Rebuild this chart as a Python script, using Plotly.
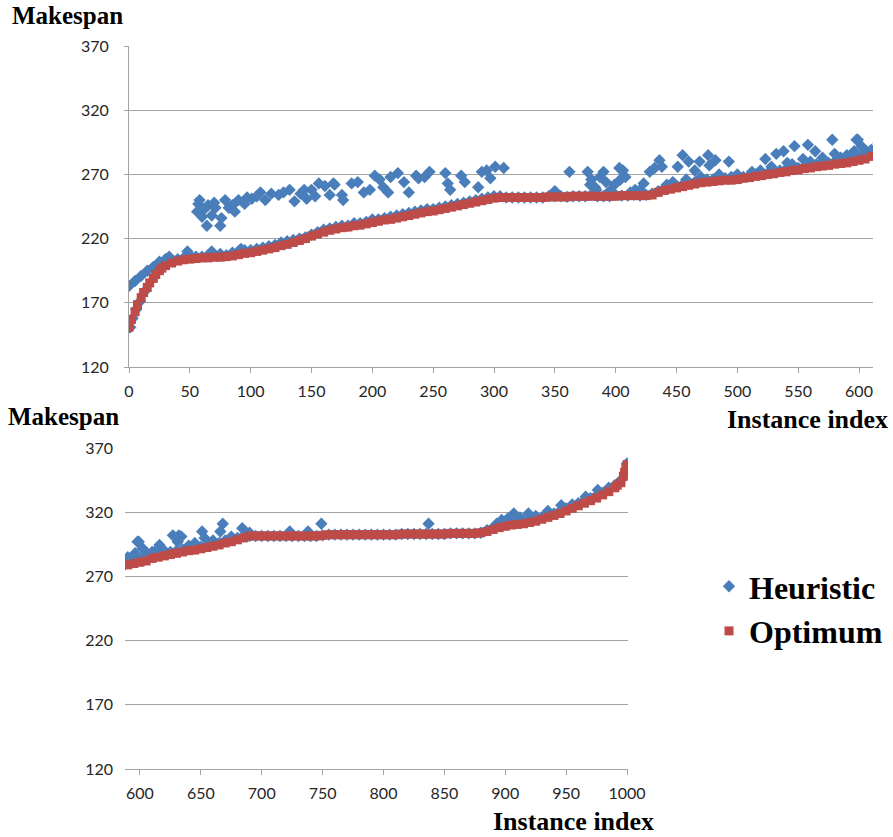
import plotly.graph_objects as go

# ---------------- data ----------------
# Optimum makespan, every 5th instance index from 0 to 1000
opt_idx = list(range(0, 1001, 5))
opt_val = [
    151, 163, 174, 182, 189, 195, 199, 201, 202.5, 203.5,
    204, 204.5, 205, 205, 205.5, 205.5, 206, 206.5, 207.5, 208.5,
    209, 210, 211, 212, 213, 214.5, 215.5, 217, 218.5, 220,
    222, 223.5, 225, 226.5, 227.5, 228.5, 229, 230, 230.5, 231.5,
    232.5, 233.5, 234.5, 235, 236, 237, 238, 239, 240, 241,
    241.5, 242.5, 243.5, 244.5, 245.5, 246.5, 247.5, 248.5, 249.5, 250.5,
    251.5, 252, 252, 252, 252, 252, 252, 252, 252, 252.5,
    252.5, 252.5, 252.5, 253, 253, 253, 253, 253, 253, 253,
    253, 253.5, 253.5, 253.5, 253.5, 253.5, 254, 256, 257.5, 258.5,
    259.5, 260.5, 261.5, 262.5, 263.5, 264, 264.5, 265, 265.5, 265.5,
    266, 267, 267.5, 268.5, 269, 270, 270.5, 271.5, 272, 273,
    273.5, 274.5, 275, 276, 276.5, 277, 278, 278.5, 279, 280,
    281, 282, 284, 285, 286, 287, 288, 289, 290, 290.5,
    291.5, 292.5, 293.5, 294.5, 296, 297, 298.5, 300, 301.5, 301.5,
    301.5, 301.5, 301.5, 301.5, 301.5, 301.5, 301.5, 301.5, 301.5, 301.5,
    302, 302.5, 302.5, 302.5, 302.5, 302.5, 302.5, 302.5, 302.5, 302.5,
    302.5, 302.5, 302.5, 303, 303, 303, 303, 303, 303, 303,
    303, 303.5, 303.5, 303.5, 303.5, 303.5, 304, 305, 306.5, 308,
    309, 310, 310.5, 311, 312, 313, 314.5, 316, 317.5, 319,
    321, 323, 325, 327, 329, 331, 333.5, 336, 339, 343,
    357,
]
# extra optimum points on the steep parts
opt_extra_idx = [2, 7, 12, 17, 22, 27, 992, 997, 998, 999]
opt_extra_val = [157, 168.5, 178, 185.5, 192, 197, 341, 348, 351, 354]

# Heuristic makespan at the same indices (mostly close to the optimum)
heur_val = [
    183, 187, 191, 195, 198, 201, 204, 203, 204, 205,
    207, 206, 206, 207, 207, 208, 207, 209, 210, 211,
    211, 212, 213, 214, 215, 217, 218, 219, 220, 221,
    223, 225, 227, 228, 229, 230, 230, 232, 232, 233,
    235, 235, 236, 237, 238, 239, 240, 241, 242, 243,
    243, 244, 245, 246, 247, 248, 249, 250, 251, 252,
    253, 253, 252, 252, 252, 252, 252, 252, 252, 253,
    253, 253, 252.5, 253, 253, 253, 254, 253, 253, 253,
    254, 253.5, 253.5, 254, 253.5, 254, 255, 257, 259, 260,
    261, 262, 263, 264, 265, 266, 266, 267, 267, 268,
    267, 268, 269, 270, 271, 271, 272, 273, 274, 275,
    275, 276, 277, 278, 279, 279, 280, 281, 282, 283,
    283, 284, 286, 287, 288, 289, 290, 291, 292, 292,
    293, 294, 295, 296, 298, 299, 300, 301, 301.5, 301.5,
    301.5, 301.5, 301.5, 301.5, 301.5, 301.5, 301.5, 301.5, 301.5, 301.5,
    302, 302.5, 302.5, 302.5, 302.5, 302.5, 302.5, 302.5, 302.5, 302.5,
    302.5, 302.5, 302.5, 303, 303, 303, 303, 303, 303, 303,
    303, 303.5, 303.5, 303.5, 303.5, 303.5, 304, 306, 308, 310,
    311, 312, 312, 313, 314, 315, 316, 318, 319, 321,
    323, 325, 327, 329, 331, 333, 335, 338, 341, 345,
    358,
]
# Heuristic points lying away from the optimum curve
heur_out_idx = [
    1, 3, 6, 9, 13, 25, 33, 48, 68, 92,
    56, 57, 58, 60, 62, 64, 65, 68, 70, 71, 75, 76, 79, 82, 85, 87, 90, 95, 97,
    101, 105, 108, 112, 117, 123, 127, 132, 136, 141, 144, 146, 150, 153, 156,
    161, 165, 168, 169, 175, 176, 183, 188, 193, 198, 202, 206, 209, 213, 215,
    221, 226, 230, 236, 238, 243, 247, 260, 262, 264, 273, 276, 287, 290, 294,
    297, 301, 308,
    350, 362, 377, 379, 380, 383, 384, 387, 390, 392, 395, 399, 403, 404, 406,
    408, 412, 416, 420, 423, 428, 432, 436, 438, 442, 447, 451, 455, 458, 460,
    465, 469, 470, 476, 477, 482, 485, 493, 500, 512, 519, 523, 528, 532, 538,
    541, 545, 547, 554, 558, 560, 564, 570, 578, 580, 585, 590, 595, 596, 598,
    602, 606, 610,
    599, 605, 612, 616, 620, 627, 631, 632, 634, 640, 645, 651, 653, 660, 666,
    668, 675, 684, 690, 723, 738, 749, 837, 893, 897, 902, 907, 912, 919, 925,
    935, 946, 955, 966, 976, 985,
]
heur_out_val = [
    151, 158, 165, 171, 179, 202, 206, 210, 210, 212,
    241, 247, 250, 237, 243, 230, 246, 238, 248, 244, 230, 236, 250, 244, 246, 241, 250, 247, 252,
    251, 253, 256, 250, 255, 254, 256, 258, 249, 255, 258, 251, 258, 253, 263,
    261, 254, 263, 262, 254, 250, 263, 264, 256, 258, 269, 266, 260, 256, 268,
    271, 264, 256, 269, 267, 268, 272, 271, 263, 258, 269, 264, 260, 272, 273,
    267, 276, 275,
    257, 272, 272, 262, 266, 260, 258, 268, 272, 264, 257, 262, 275, 266, 273,
    268, 256, 258, 258, 263, 272, 275, 281, 276, 262, 264, 276, 285, 266, 280,
    273, 280, 268, 285, 277, 281, 270, 280, 270, 272, 273, 282, 276, 286, 288,
    279, 278, 292, 282, 293, 280, 288, 283, 297, 286, 283, 285, 285, 288, 297,
    292, 288, 289,
    297, 287, 289, 294.5, 290, 302, 297, 302, 301, 294, 296, 305, 300, 298, 305,
    311, 301, 307.5, 304, 305, 305, 311, 311, 311, 314, 315, 319, 316, 319, 317,
    321, 325.5, 326, 332, 337.3, 339,
]

series_names = ["Heuristic", "Optimum"]
y_ticks = [120, 170, 220, 270, 320, 370]
x_ticks_top = list(range(0, 601, 50))
x_ticks_bottom = list(range(600, 1001, 50))

# ---------------- styling ----------------
W, H = 893, 837
BLUE = "#4A7EBB"
RED = "#BE4B48"
GRID = "#A3A3A3"
TICKFONT = dict(family="Lato, 'Open Sans', sans-serif", size=16, color="#262626")
SERIF = "'Liberation Serif', 'Times New Roman', serif"

def px_x(p):
    return p / W

def px_y(p):
    return 1 - p / H

heur_x = opt_idx + heur_out_idx
heur_y = heur_val + heur_out_val
opt_x = opt_idx + opt_extra_idx
opt_y = opt_val + opt_extra_val

fig = go.Figure()
for k, (xa, ya) in enumerate([("x", "y"), ("x2", "y2")]):
    fig.add_trace(go.Scatter(
        x=heur_x, y=heur_y, mode="markers", name=series_names[0],
        xaxis=xa, yaxis=ya, showlegend=(k == 0),
        marker=dict(symbol="diamond", size=9.5, color=BLUE, line=dict(width=0)),
    ))
    fig.add_trace(go.Scatter(
        x=opt_x, y=opt_y, mode="markers", name=series_names[1],
        xaxis=xa, yaxis=ya, showlegend=(k == 0),
        marker=dict(symbol="square", size=9, color=RED, line=dict(width=0)),
    ))

common_x = dict(showgrid=False, zeroline=False, showline=True, linecolor=GRID, linewidth=1,
                ticks="outside", ticklen=5, tickcolor=GRID, tickwidth=1, tickfont=TICKFONT,
                tickmode="array", automargin=False, ticklabelstandoff=5)
common_y = dict(range=[120, 370], tickmode="array", tickvals=y_ticks, showgrid=True,
                gridcolor=GRID, gridwidth=1, zeroline=False, tickfont=TICKFONT,
                automargin=False)

fig.update_layout(
    template="none",
    width=W, height=H, autosize=False,
    margin=dict(l=0, r=0, t=0, b=0, pad=0, autoexpand=False),
    paper_bgcolor="white", plot_bgcolor="white",
    xaxis=dict(domain=[px_x(129), px_x(873)], range=[0, 611.5], tickvals=x_ticks_top,
               anchor="y", **common_x),
    yaxis=dict(domain=[px_y(367), px_y(46)], anchor="x", showline=True, linecolor=GRID,
               ticks="outside", ticklen=4, tickcolor=GRID, ticklabelstandoff=12, **common_y),
    xaxis2=dict(domain=[px_x(125), px_x(628)], range=[587.7, 1000.8], tickvals=x_ticks_bottom,
                anchor="y2", **common_x),
    yaxis2=dict(domain=[px_y(769), px_y(448)], anchor="x2", showline=False, ticks="",
                ticklabelstandoff=11, **common_y),
    legend=dict(x=px_x(709), y=px_y(559), xanchor="left", yanchor="top",
                xref="container", yref="container",
                font=dict(family=SERIF, size=32, color="black", weight="bold"),
                bgcolor="rgba(0,0,0,0)", borderwidth=0, itemsizing="trace", tracegroupgap=0),
    showlegend=True,
)

annos = [
    dict(text="Makespan", x=px_x(10), y=px_y(15.5), xanchor="left", yanchor="middle", size=25),
    dict(text="Makespan", x=px_x(6), y=px_y(417), xanchor="left", yanchor="middle", size=25),
    dict(text="Instance index", x=px_x(890), y=px_y(419), xanchor="right", yanchor="middle", size=26),
    dict(text="Instance index", x=px_x(491), y=px_y(821), xanchor="left", yanchor="middle", size=26),
]
for a in annos:
    size = a.pop("size")
    fig.add_annotation(xref="paper", yref="paper", showarrow=False,
                       font=dict(family=SERIF, size=size, color="black", weight="bold"), **a)

fig.write_html(
    "out.html",
    post_script="document.body.style.margin='0';document.body.style.overflow='hidden';",
)
